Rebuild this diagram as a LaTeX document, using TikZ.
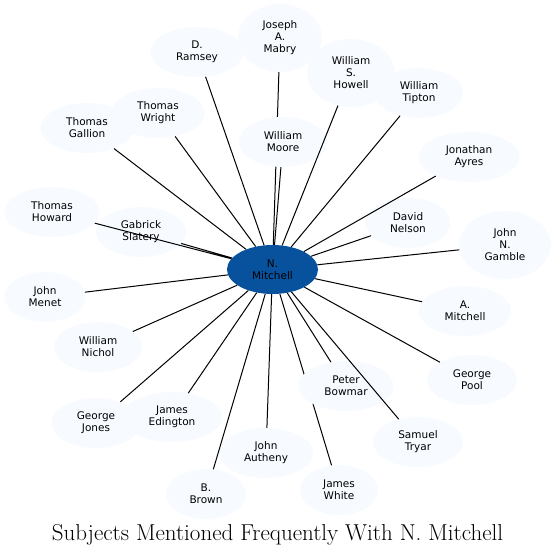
\documentclass[tikz,border=0pt]{standalone}
\usepackage{fontspec}
\usepackage{xcolor}
\usepackage{tikz}
\usetikzlibrary{shapes.geometric}
\newfontfamily\nodefont{DejaVu Sans}
\definecolor{subjfill}{HTML}{F7FBFF}
\definecolor{hubfill}{HTML}{08519C}

\begin{document}
\begin{tikzpicture}[
  x=1pt, y=-1pt,
  subject/.style={ellipse, fill=subjfill, inner sep=0pt,
    minimum width=90pt, minimum height=50pt, align=center,
    font=\nodefont\fontsize{10.5}{12}\selectfont},
  tall/.style={minimum height=68pt},
  hub/.style={subject, fill=hubfill, minimum width=91pt, minimum height=49pt},
  edge/.style={draw=black, line width=1pt}
]
  \useasboundingbox (0,0) rectangle (555,555);
  % hub
  \node[hub] (nmitchell) at (272.5,269.5) {N.\\Mitchell};
  % subjects, clockwise from the top
  \node[subject, minimum width=93pt] (ramsey) at (197,52) {D.\\Ramsey};
  \node[subject, tall, minimum width=84pt] (mabry) at (280,38) {Joseph\\A.\\Mabry};
  \node[subject, tall, minimum width=88pt] (howell) at (351,73) {William\\S.\\Howell};
  \node[subject, minimum width=88pt] (tipton) at (419,93) {William\\Tipton};
  \node[subject, minimum width=101pt] (ayres) at (469,157) {Jonathan\\Ayres};
  \node[subject, minimum width=85pt] (nelson) at (408,223) {David\\Nelson};
  \node[subject, tall, minimum width=92pt] (gamble) at (505,245) {John\\N.\\Gamble};
  \node[subject, minimum width=92pt] (amitchell) at (465,311) {A.\\Mitchell};
  \node[subject] (pool) at (472,380) {George\\Pool};
  \node[subject, minimum width=90pt] (tryar) at (418,442) {Samuel\\Tryar};
  \node[subject, minimum width=78pt] (white) at (339,490) {James\\White};
  \node[subject, minimum width=94pt] (autheny) at (266,453) {John\\Autheny};
  \node[subject, minimum width=80pt] (brown) at (206,494) {B.\\Brown};
  \node[subject, minimum width=89pt] (jones) at (96,423) {George\\Jones};
  \node[subject, minimum width=100pt] (edington) at (172,417) {James\\Edington};
  \node[subject, minimum width=88pt] (nichol) at (98,347) {William\\Nichol};
  \node[subject, minimum width=81pt] (menet) at (45,297) {John\\Menet};
  \node[subject, minimum width=95pt] (howard) at (52,212) {Thomas\\Howard};
  \node[subject] (slatery) at (141,232) {Gabrick\\Slatery};
  \node[subject, minimum width=93pt] (gallion) at (87,128) {Thomas\\Gallion};
  \node[subject, minimum width=93pt] (wright) at (158,113) {Thomas\\Wright};
  % these two run under William Moore and Peter Bowmar
  \draw[edge] (nmitchell) -- (mabry) (nmitchell) -- (white);
  \node[subject, minimum width=88pt] (moore) at (283,142) {William\\Moore};
  \node[subject, minimum width=95pt] (bowmar) at (346,386) {Peter\\Bowmar};
  \draw[edge] (nmitchell) -- (ramsey) (nmitchell) -- (howell)
    (nmitchell) -- (tipton) (nmitchell) -- (ayres)
    (nmitchell) -- (nelson) (nmitchell) -- (gamble)
    (nmitchell) -- (amitchell) (nmitchell) -- (pool)
    (nmitchell) -- (tryar) (nmitchell) -- (bowmar)
    (nmitchell) -- (autheny)
    (nmitchell) -- (brown) (nmitchell) -- (jones)
    (nmitchell) -- (edington) (nmitchell) -- (nichol)
    (nmitchell) -- (menet) (nmitchell) -- (howard)
    (nmitchell) -- (slatery) (nmitchell) -- (gallion)
    (nmitchell) -- (wright) (nmitchell) -- (moore);
  \node[anchor=base, font=\fontsize{23}{26}\selectfont] (caption) at (277.5,540)
    {Subjects Mentioned Frequently With N. Mitchell};
\end{tikzpicture}
\end{document}
